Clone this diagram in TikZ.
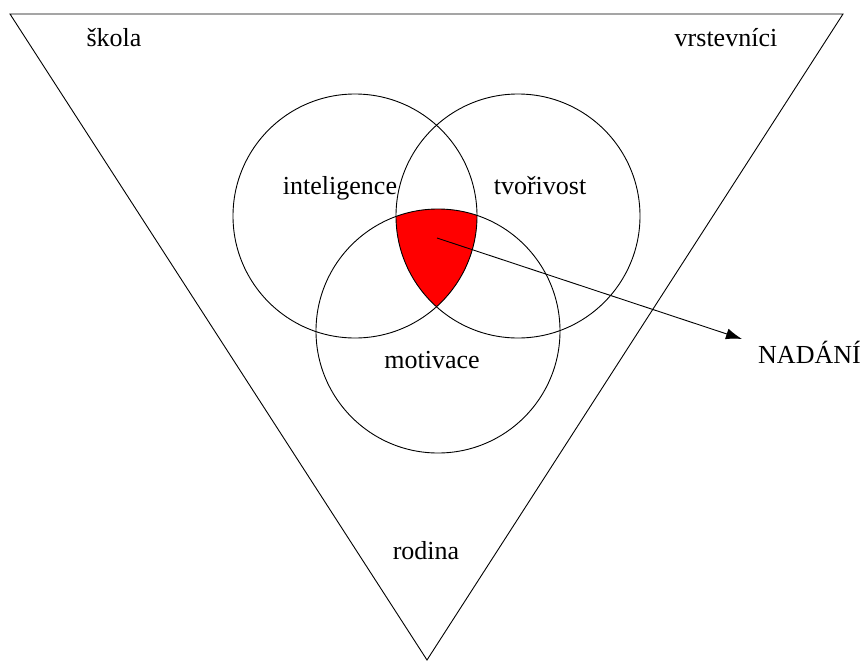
\documentclass[tikz,border=0pt]{standalone}
\usepackage{fontspec}
\setmainfont{Liberation Serif}
\usetikzlibrary{arrows.meta}
\tikzset{
    ring/.style={circle, draw, line width=0.9pt, minimum size=244pt, inner sep=0pt},
    word/.style={anchor=base, inner sep=0pt, font=\fontsize{26}{30}\selectfont},
    arrow/.style={line width=0.9pt, -{Latex[length=16pt, width=11pt]}}
}
\begin{document}
\begin{tikzpicture}[x=1pt, y=-1pt]
    \useasboundingbox (0,0) rectangle (868,662);
    % Triangle
    \coordinate (tl) at (10,14);
    \coordinate (tr) at (843,14);
    \coordinate (apex) at (427,660);
    \draw [line width=0.9pt] (tl) -- (tr) -- (apex) -- cycle;

    % Red core
    \begin{scope}
        \clip (355,216) circle [radius=122pt];
        \clip (518,216) circle [radius=122pt];
        \fill [red] (438,331) circle [radius=122pt];
    \end{scope}

    % Place circles
    \node [ring] (intel) at (355,216) {};
    \node [ring] (creat) at (518,216) {};
    \node [ring] (motiv) at (438,331) {};

    % Place labels
    \node [word] (skola) at (114,46) {škola};
    \node [word] (peers) at (726,46) {vrstevníci};
    \node [word] (intellbl) at (340,194) {inteligence};
    \node [word] (creatlbl) at (540,194) {tvořivost};
    \node [word] (motivlbl) at (432,368) {motivace};
    \node [word] (rodina) at (426,559) {rodina};
    \node [word, anchor=base west] (nadani) at (758,363) {NADÁNÍ};

    % Draw arrow
    \coordinate (core) at (437,238);
    \coordinate (tip) at (742,339);
    \draw [arrow] (core) -- (tip);
\end{tikzpicture}
\end{document}
